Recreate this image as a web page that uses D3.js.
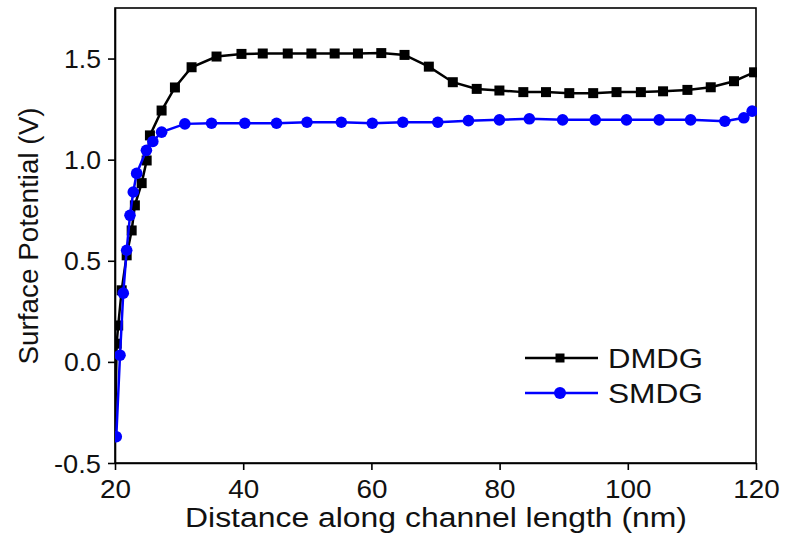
<!DOCTYPE html>
<html><head><meta charset="utf-8">
<script src="https://cdn.jsdelivr.net/npm/d3@7"></script>
<style>body{margin:0;background:#fff;} text{font-family:"Liberation Sans",Arial,sans-serif;}</style>
</head><body>
<svg id="c" width="785" height="545"></svg>
<script>
const dmdgX = [20.0,20.26,20.5,21.04,21.82,22.6,23.1,24.16,24.94,25.45,27.27,29.35,31.95,35.84,39.73,43.05,46.95,50.64,54.27,57.9,61.54,65.17,68.96,72.7,76.43,79.97,83.7,87.24,90.87,94.6,98.24,102.04,105.5,109.3,112.94,116.57,119.7,120];
const dmdgY = [-0.37,0.09,0.18,0.354,0.527,0.65,0.774,0.884,0.996,1.12,1.243,1.357,1.457,1.51,1.523,1.525,1.525,1.525,1.525,1.525,1.527,1.518,1.46,1.383,1.35,1.342,1.334,1.334,1.329,1.329,1.334,1.334,1.338,1.345,1.358,1.388,1.432,1.45];
const smdgX = [20.2,20.78,21.29,21.82,22.34,22.85,23.38,24.9,25.9,27.27,30.9,35.06,40.25,45.2,49.95,55.31,60.14,64.9,70.36,75.14,79.97,84.64,89.83,94.92,99.8,104.9,109.8,115.14,118.1,119.4,120];
const smdgY = [-0.37,0.033,0.34,0.552,0.725,0.84,0.932,1.046,1.09,1.136,1.177,1.18,1.18,1.18,1.185,1.185,1.18,1.185,1.185,1.193,1.197,1.202,1.197,1.197,1.197,1.197,1.197,1.19,1.207,1.24,1.25];
const xTicks = [20,40,60,80,100,120];
const yTicks = [-0.5,0.0,0.5,1.0,1.5];
const yTickLabels = ["-0.5","0.0","0.5","1.0","1.5"];
const seriesNames = ["DMDG","SMDG"];
const seriesColors = ["#000000","#0000ff"];

const svg = d3.select("#c");
const L=115,R=756,T=8,B=463;
const x = d3.scaleLinear().domain([20,120]).range([L,R]);
const y = d3.scaleLinear().domain([-0.5,1.75]).range([B,T]);

svg.append("rect").attr("x",L).attr("y",T).attr("width",R-L).attr("height",B-T)
  .attr("fill","none").attr("stroke","#000").attr("stroke-width",1.6);

const xa = svg.append("g").attr("transform",`translate(0,${B})`)
  .call(d3.axisBottom(x).tickValues(xTicks).tickSize(7).tickSizeOuter(0).tickFormat(d3.format("d")));
const ya = svg.append("g").attr("transform",`translate(${L},0)`)
  .call(d3.axisLeft(y).tickValues(yTicks).tickSize(7).tickSizeOuter(0).tickFormat((d,i)=>yTickLabels[i]));
[xa,ya].forEach(a=>{
  a.select(".domain").attr("stroke-width",1.6);
  a.selectAll(".tick line").attr("stroke-width",1.6);
  a.selectAll("text").attr("font-size",25).attr("fill","#111").attr("font-family","Liberation Sans, Arial, sans-serif")
   .attr("lengthAdjust","spacingAndGlyphs");
});
xa.selectAll("text").attr("dy",null).attr("y",35).attr("textLength",d=>String(d).length*15.5);
ya.selectAll("text").attr("x",-14).attr("dy","0.36em").attr("textLength",(d,i)=>yTickLabels[i].length===4?47:37);

svg.append("text").attr("x",436).attr("y",527).attr("text-anchor","middle")
  .attr("font-size",27).attr("fill","#111").attr("textLength",502).attr("lengthAdjust","spacingAndGlyphs")
  .text("Distance along channel length (nm)");
svg.append("text").attr("transform",`translate(38,236) rotate(-90)`).attr("text-anchor","middle")
  .attr("font-size",27).attr("fill","#111").attr("textLength",257).attr("lengthAdjust","spacingAndGlyphs")
  .text("Surface Potential (V)");

const line = d3.line().x(d=>x(d[0])).y(d=>y(d[1]));
const dm = dmdgX.map((v,i)=>[v,dmdgY[i]]);
const sm = smdgX.map((v,i)=>[v,smdgY[i]]);
svg.append("clipPath").attr("id","cp").append("rect").attr("x",L).attr("y",T).attr("width",R-L+1).attr("height",B-T);
const g = svg.append("g").attr("clip-path","url(#cp)");
g.append("path").datum(dm).attr("d",line).attr("fill","none").attr("stroke",seriesColors[0]).attr("stroke-width",2.5);
g.selectAll("rect.m").data(dm.slice(1,-1)).join("rect").attr("class","m")
  .attr("x",d=>x(d[0])-5).attr("y",d=>y(d[1])-5).attr("width",10).attr("height",10).attr("fill",seriesColors[0]);
g.append("path").datum(sm).attr("d",line).attr("fill","none").attr("stroke",seriesColors[1]).attr("stroke-width",2.5);
g.selectAll("circle.m").data(sm.slice(0,-1)).join("circle").attr("class","m")
  .attr("cx",d=>x(d[0])).attr("cy",d=>y(d[1])).attr("r",5.8).attr("fill",seriesColors[1]);

// legend
const lg = svg.append("g");
seriesNames.forEach((n,i)=>{
  const yy = 358 + i*35;
  lg.append("line").attr("x1",525).attr("x2",598).attr("y1",yy).attr("y2",yy).attr("stroke",seriesColors[i]).attr("stroke-width",2.5);
  if(i===0) lg.append("rect").attr("x",560-4.5).attr("y",yy-4.5).attr("width",9).attr("height",9).attr("fill",seriesColors[i]);
  else lg.append("circle").attr("cx",560).attr("cy",yy).attr("r",6).attr("fill",seriesColors[i]);
  lg.append("text").attr("x",608).attr("y",yy).attr("dy","0.36em").attr("font-size",27).attr("fill","#111")
    .attr("textLength",95).attr("lengthAdjust","spacingAndGlyphs").text(n);
});
</script>
</body></html>
